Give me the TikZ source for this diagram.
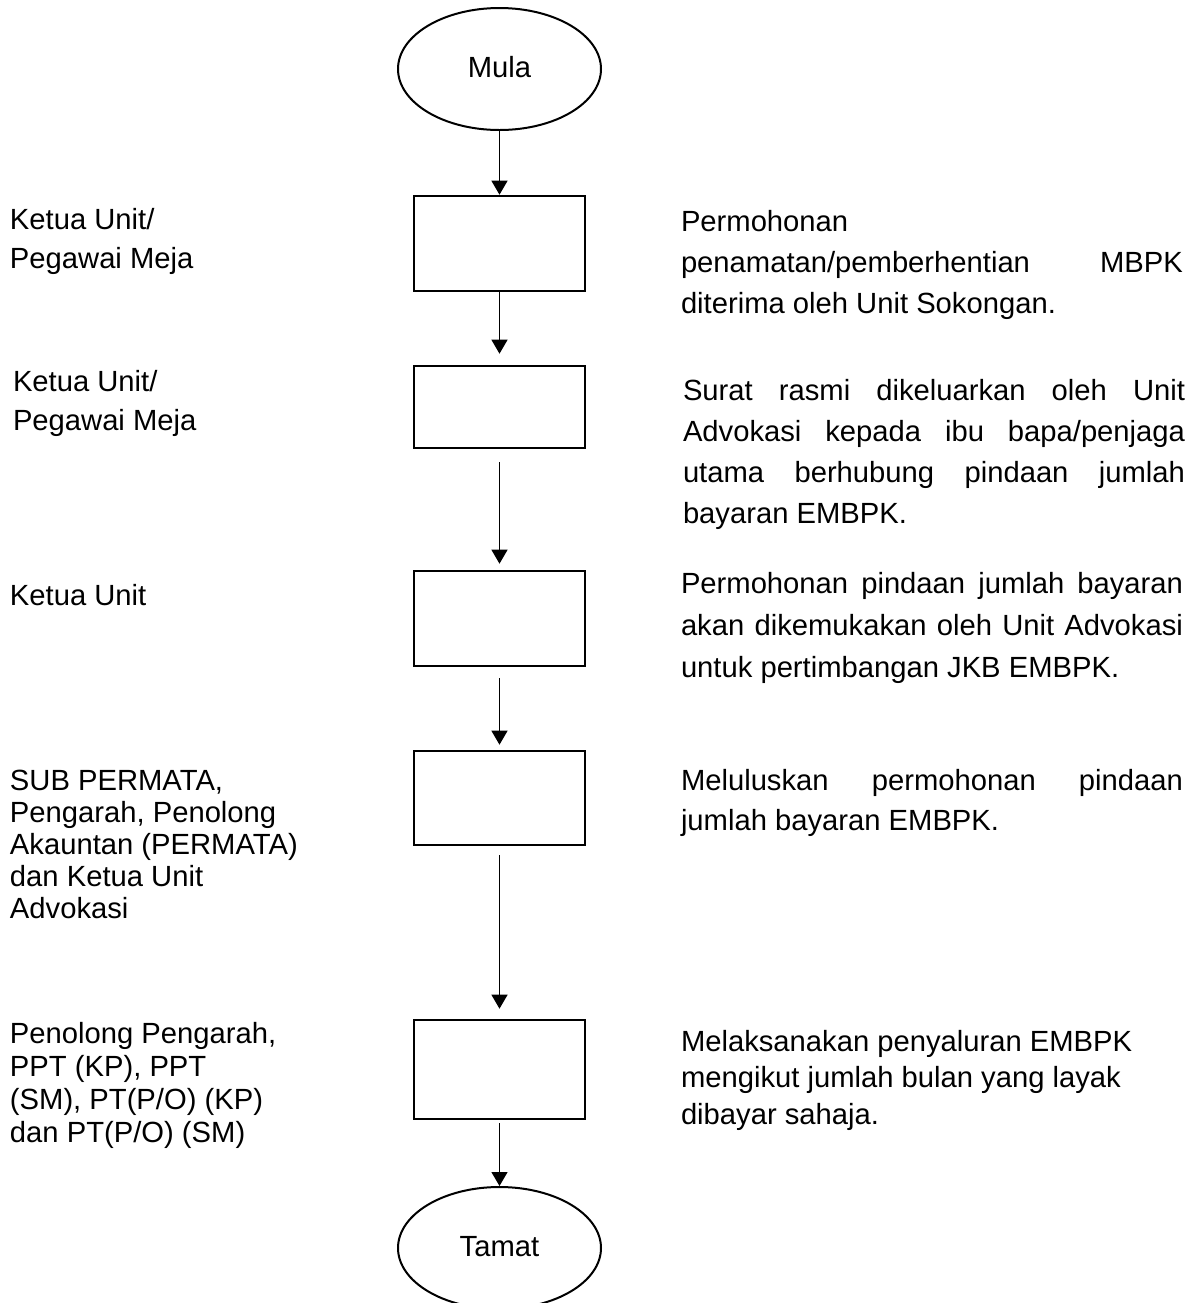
\documentclass[tikz,border=0pt]{standalone}
\usepackage{fontspec}
\setmainfont{Liberation Sans}
\usetikzlibrary{arrows.meta,shapes.geometric}

\tikzset{
  stepbox/.style={draw, rectangle, line width=1.3pt, minimum width=85.5pt, inner sep=0pt},
  terminal/.style={draw, ellipse, line width=1pt, minimum width=101.5pt, minimum height=61pt,
    inner sep=0pt, font=\fontsize{14.6pt}{17pt}\selectfont},
  flow/.style={line width=0.65pt, -{Triangle[length=7pt,width=8pt]}},
  note/.style={anchor=base west, inner sep=0pt, outer sep=0pt},
}

% text block: width, line spacing, body (baseline of the first line is the node base)
\newcommand\txtblock[3]{\parbox[t]{#1}{\fontsize{14.6pt}{#2}\selectfont #3}}
\newcommand\fullline[1]{\makebox[\linewidth][s]{#1}}

\begin{document}
\begin{tikzpicture}[x=0.5pt, y=-0.5pt]
\useasboundingbox (0,0) rectangle (1197,1303);
\fill[white] (0,0) rectangle (1197,1303);

% flow column
\node[terminal] (mula) at (499.5,69) {\raisebox{2pt}{Mula}};
\node[stepbox, minimum height=47.5pt] (b1) at (499.5,243.5) {};
\node[stepbox, minimum height=41pt]   (b2) at (499.5,407) {};
\node[stepbox, minimum height=47.5pt] (b3) at (499.5,618.5) {};
\node[stepbox, minimum height=47pt]   (b4) at (499.5,798) {};
\node[stepbox, minimum height=49.5pt] (b5) at (499.5,1069.5) {};
\node[terminal] (tamat) at (499.5,1248) {\raisebox{2pt}{Tamat}};

\draw[flow] (mula) -- (b1);
\draw[flow, shorten >=5.5pt] (b1) -- (b2);
\draw[flow, shorten <=6.5pt, shorten >=3pt] (b2) -- (b3);
\draw[flow, shorten <=5.5pt, shorten >=2.5pt] (b3) -- (b4);
\draw[flow, shorten <=4.5pt, shorten >=5pt] (b4) -- (b5);
\draw[flow, shorten <=1.5pt] (b5) -- (tamat);

% responsible parties
\node[note] (l1) at (10,229.3) {\txtblock{160pt}{19.5pt}{Ketua Unit/\\Pegawai Meja}};
\node[note] (l2) at (13,391.7) {\txtblock{160pt}{19.25pt}{Ketua Unit/\\Pegawai Meja}};
\node[note] (l3) at (10,605) {\txtblock{160pt}{16pt}{Ketua Unit}};
\node[note] (l4) at (10,790) {\txtblock{160pt}{16pt}{SUB PERMATA,\\Pengarah, Penolong\\Akauntan (PERMATA)\\dan Ketua Unit\\Advokasi}};
\node[note] (l5) at (10,1043) {\txtblock{160pt}{16.5pt}{Penolong Pengarah,\\PPT (KP), PPT\\(SM), PT(P/O) (KP)\\dan PT(P/O) (SM)}};

% step descriptions
\node[note] (r1) at (681,231.8) {\txtblock{251pt}{20.5pt}{Permohonan\\\fullline{penamatan/pemberhentian MBPK}\\diterima oleh Unit Sokongan.}};
\node[note] (r2) at (683,400) {\txtblock{251pt}{20.5pt}{\fullline{Surat rasmi dikeluarkan oleh Unit}\\\fullline{Advokasi kepada ibu bapa/penjaga}\\\fullline{utama berhubung pindaan jumlah}\\bayaran EMBPK.}};
\node[note] (r3) at (681,593.6) {\txtblock{251pt}{21pt}{\fullline{Permohonan pindaan jumlah bayaran}\\\fullline{akan dikemukakan oleh Unit Advokasi}\\untuk pertimbangan JKB EMBPK.}};
\node[note] (r4) at (681,790) {\txtblock{251pt}{20pt}{\fullline{Meluluskan permohonan pindaan}\\jumlah bayaran EMBPK.}};
\node[note] (r5) at (681,1051) {\txtblock{251pt}{18.25pt}{Melaksanakan penyaluran EMBPK\\mengikut jumlah bulan yang layak\\dibayar sahaja.}};
\end{tikzpicture}
\end{document}
